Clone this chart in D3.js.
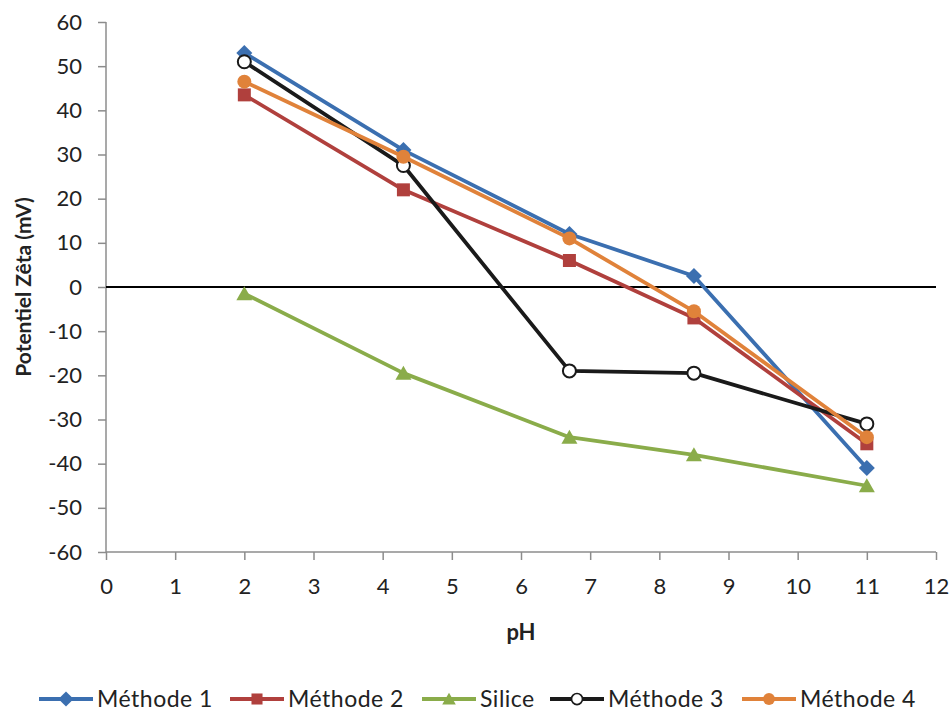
<!DOCTYPE html>
<html><head><meta charset="utf-8">
<script src="https://cdn.jsdelivr.net/npm/d3@7"></script>
<style>body{margin:0;background:#fff;} text{font-family:Lato,"Open Sans",sans-serif;}</style>
</head><body>
<svg id="chart" width="951" height="711"></svg>
<script>
const phValues = [2, 4.3, 6.7, 8.5, 11];
const seriesNames = ["Méthode 1", "Méthode 2", "Silice", "Méthode 3", "Méthode 4"];
const methode1 = [53, 31, 12, 2.5, -41];
const methode2 = [43.5, 22, 6, -7, -35.5];
const silice = [-1.5, -19.5, -34, -38, -45];
const methode3 = [51, 27.5, -19, -19.5, -31];
const methode4 = [46.5, 29.5, 11, -5.5, -34];
const xTicks = [0,1,2,3,4,5,6,7,8,9,10,11,12];
const yTicks = [60,50,40,30,20,10,0,-10,-20,-30,-40,-50,-60];

const colors = ["#3b6fb0", "#b0403d", "#8aac4a", "#1a1a1a", "#e0823a"];
const symbols = ["diamond", "square", "triangle", "circle", "dot"];
const allValues = [methode1, methode2, silice, methode3, methode4];

(function(){
const FONT = "Lato,'Open Sans',sans-serif";
const svg = d3.select("#chart");
const pLeft = 106, pRight = 936, pTop = 22, pBottom = 552;
const x = d3.scaleLinear().domain([0, 12]).range([pLeft, pRight]);
const y = d3.scaleLinear().domain([-60, 60]).range([pBottom, pTop]);

const yAxis = svg.append("g").attr("transform", `translate(${pLeft},0)`)
  .call(d3.axisLeft(y).tickValues(yTicks).tickSize(8).tickPadding(16).tickFormat(d => String(d)));
const xAxis = svg.append("g").attr("transform", `translate(0,${pBottom})`)
  .call(d3.axisBottom(x).tickValues(xTicks).tickSize(8).tickPadding(18).tickFormat(d => String(d)));
[yAxis, xAxis].forEach(a => {
  a.selectAll("path,line").attr("stroke", "#8c8c8c").attr("stroke-width", 1.5);
  a.selectAll("text").attr("font-size", 22).attr("fill", "#222").style("font-family", FONT);
});
yAxis.select(".domain").attr("d", `M0,${pTop}V${pBottom}`);
xAxis.select(".domain").attr("d", `M${pLeft},0H${pRight}`);

svg.append("line").attr("x1", pLeft).attr("x2", pRight).attr("y1", y(0)).attr("y2", y(0))
  .attr("stroke", "#000").attr("stroke-width", 2);

svg.append("text").attr("x", 521).attr("y", 640).attr("text-anchor", "middle")
  .attr("font-size", 22).attr("font-weight", "bold").attr("fill", "#222").text("pH");
svg.append("text").attr("transform", `translate(31,${y(0)}) rotate(-90)`).attr("text-anchor", "middle")
  .attr("font-size", 21).attr("font-weight", "bold").attr("fill", "#222").text("Potentiel Zêta (mV)");

function drawMarker(g, kind, color, cx, cy, s) {
  s = s || 1;
  const t = `translate(${cx},${cy}) scale(${s})`;
  if (kind === "diamond") {
    g.append("path").attr("d", "M0,-8L8,0L0,8L-8,0Z").attr("transform", t).attr("fill", color);
  } else if (kind === "square") {
    g.append("path").attr("d", "M-6.5,-6.5H6.5V6.5H-6.5Z").attr("transform", t).attr("fill", color);
  } else if (kind === "triangle") {
    g.append("path").attr("d", "M0,-7.5L8,6.5L-8,6.5Z").attr("transform", t).attr("fill", color);
  } else if (kind === "circle") {
    g.append("circle").attr("r", 6.5).attr("transform", t)
      .attr("fill", "#fff").attr("stroke", color).attr("stroke-width", 2);
  } else {
    g.append("circle").attr("r", 7).attr("transform", t).attr("fill", color);
  }
}

const line = d3.line().x(d => x(d[0])).y(d => y(d[1]));
allValues.forEach((vals, i) => {
  const data = phValues.map((p, j) => [p, vals[j]]);
  const g = svg.append("g");
  g.append("path").datum(data).attr("d", line).attr("fill", "none")
    .attr("stroke", colors[i]).attr("stroke-width", 3.8).attr("stroke-linejoin", "round");
  data.forEach(d => drawMarker(g, symbols[i], colors[i], x(d[0]), y(d[1])));
});

const legendX = [39, 230, 422, 550, 742];
const legendY = 699;
seriesNames.forEach((name, i) => {
  const g = svg.append("g");
  const lx = legendX[i];
  g.append("line").attr("x1", lx).attr("x2", lx + 54).attr("y1", legendY).attr("y2", legendY)
    .attr("stroke", colors[i]).attr("stroke-width", 3.8);
  drawMarker(g, symbols[i], colors[i], lx + 27, legendY, i === 0 ? 0.95 : 0.85);
  g.append("text").attr("x", lx + 58).attr("y", legendY + 8).attr("font-size", 23)
    .attr("letter-spacing", 0.5).attr("fill", "#222").text(name);
});
})();
</script>
</body></html>
